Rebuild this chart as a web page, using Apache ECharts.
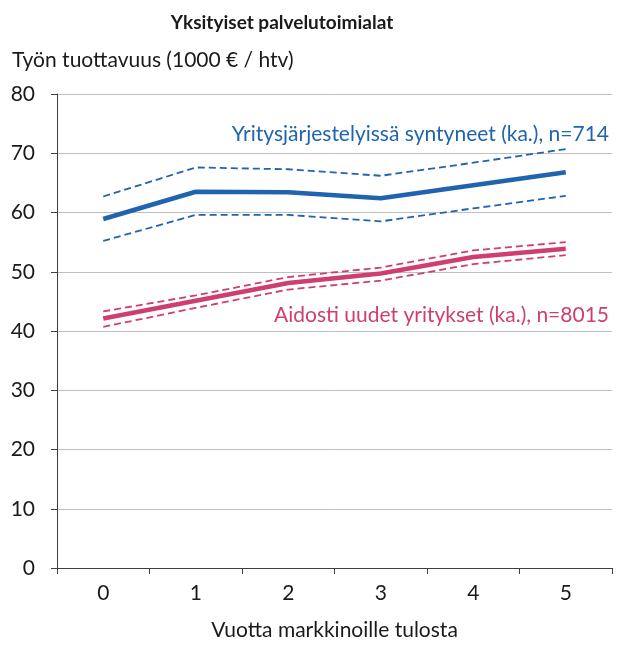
<!DOCTYPE html>
<html><head><meta charset="utf-8">
<script src="https://cdn.jsdelivr.net/npm/echarts@6/dist/echarts.min.js"></script>
<style>html,body{margin:0;padding:0;background:#fff}#c{width:619px;height:646px}</style>
</head><body><div id="c"></div>
<script>
const categories = ['0','1','2','3','4','5'];
const yrMean  = [58.9, 63.5, 63.4, 62.4, 64.6, 66.8];
const yrUpper = [62.7, 67.6, 67.3, 66.2, 68.4, 70.7];
const yrLower = [55.2, 59.6, 59.6, 58.5, 60.7, 62.8];
const auMean  = [42.1, 45.1, 48.1, 49.7, 52.5, 53.9];
const auUpper = [43.3, 46.0, 49.1, 50.7, 53.6, 55.0];
const auLower = [40.7, 43.9, 47.0, 48.5, 51.3, 52.8];
const yTicks = [0,10,20,30,40,50,60,70,80];

const BLUE = '#1f64ac', PINK = '#cf3f6e';
const FONT = 'Lato';
const FS = 21;
const chart = echarts.init(document.getElementById('c'), null, {renderer:'canvas'});
function line(data, color, width, dashed){
  return {type:'line', data, symbol:'none', smooth:false, silent:true,
    lineStyle:{color, width, type: dashed ? [7,4] : 'solid', cap:'butt'}};
}
chart.setOption({
  animation:false,
  textStyle:{fontFamily:FONT},
  graphic:[
    {type:'text', x:282, y:23, style:{text:'Yksityiset palvelutoimialat', font:'bold 19px '+FONT, fill:'#1a1a1a', textAlign:'center', textVerticalAlign:'middle'}},
    {type:'text', x:12, y:60, style:{text:'Työn tuottavuus (1000 € / htv)', font:FS+'px '+FONT, fill:'#1a1a1a', textAlign:'left', textVerticalAlign:'middle'}},
    {type:'text', x:609, y:134, style:{text:'Yritysjärjestelyissä syntyneet (ka.), n=714', font:FS+'px '+FONT, fill:BLUE, textAlign:'right', textVerticalAlign:'middle'}},
    {type:'text', x:609, y:315, style:{text:'Aidosti uudet yritykset (ka.), n=8015', font:FS+'px '+FONT, fill:PINK, textAlign:'right', textVerticalAlign:'middle'}}
  ],
  grid:{left:57, right:7, top:94, bottom:73},
  xAxis:{type:'category', data:categories, boundaryGap:true,
    name:'Vuotta markkinoille tulosta', nameLocation:'middle', nameGap:52,
    nameTextStyle:{fontFamily:FONT, fontSize:FS, color:'#1a1a1a'},
    axisLine:{lineStyle:{color:'#404040', width:1}},
    axisTick:{show:true, alignWithLabel:false, length:6, lineStyle:{color:'#404040'}},
    axisLabel:{fontFamily:FONT, fontSize:FS, color:'#1a1a1a', margin:15}},
  yAxis:{type:'value', min:yTicks[0], max:yTicks[yTicks.length-1], interval:10,
    axisLine:{show:true, lineStyle:{color:'#404040'}},
    axisTick:{show:true, length:6, lineStyle:{color:'#404040'}},
    axisLabel:{fontFamily:FONT, fontSize:FS, color:'#1a1a1a', margin:22},
    splitLine:{lineStyle:{color:'#bfbfbf', width:1}}},
  series:[
    line(yrUpper, BLUE, 1.8, true),
    line(yrLower, BLUE, 1.8, true),
    line(auUpper, PINK, 1.8, true),
    line(auLower, PINK, 1.8, true),
    line(yrMean, BLUE, 4.5, false),
    line(auMean, PINK, 4.5, false)
  ]
});
</script></body></html>
